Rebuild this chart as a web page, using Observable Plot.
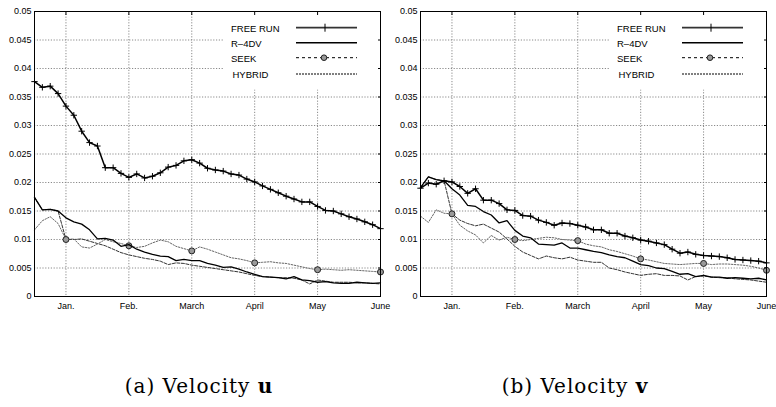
<!DOCTYPE html>
<html><head><meta charset="utf-8">
<script src="https://cdn.jsdelivr.net/npm/d3@7"></script>
<script src="https://cdn.jsdelivr.net/npm/@observablehq/plot@0.6"></script>
<style>
body{margin:0;background:#fff;}
#wrap{position:relative;width:776px;height:407px;overflow:hidden;background:#fff;}
.panel{position:absolute;top:0;}
.cap{position:absolute;font-family:"DejaVu Serif",serif;font-size:20px;line-height:20px;color:#000;white-space:nowrap;transform:translateX(-50%);letter-spacing:1px;}
</style></head><body>
<div id="wrap">
 <div id="pa" class="panel" style="left:0"></div>
 <div id="pb" class="panel" style="left:386px"></div>
 <div class="cap" style="left:199px;top:376px">(a) Velocity <b>u</b></div>
 <div class="cap" style="left:575px;top:376px">(b) Velocity <b>v</b></div>
</div>
<script>
const months = [-0.5,-0.375,-0.25,-0.125,0,0.125,0.25,0.375,0.5,0.625,0.75,0.875,1,1.125,1.25,1.375,1.5,1.625,1.75,1.875,2,2.125,2.25,2.375,2.5,2.625,2.75,2.875,3,3.125,3.25,3.375,3.5,3.625,3.75,3.875,4,4.125,4.25,4.375,4.5,4.625,4.75,4.875,5];
const monthTicks = [0,1,2,3,4,5];
const monthLabels = ["Jan.","Feb.","March","April","May","June"];
const yTicks = [0,0.005,0.01,0.015,0.02,0.025,0.03,0.035,0.04,0.045,0.05];
const yTickLabels = ["0","0.005","0.01","0.015","0.02","0.025","0.03","0.035","0.04","0.045","0.05"];
const seriesNames = ["FREE RUN","R\u20134DV","SEEK","HYBRID"];

const uFreeRun = [0.0377,0.0367,0.0369,0.0356,0.0334,0.0318,0.0290,0.0270,0.0264,0.0226,0.0226,0.0216,0.0209,0.0215,0.0208,0.0211,0.0217,0.0227,0.0230,0.0238,0.0240,0.0234,0.0225,0.0222,0.0220,0.0215,0.0213,0.0206,0.0201,0.0194,0.0188,0.0182,0.0176,0.0171,0.0166,0.0166,0.0158,0.0151,0.0150,0.0145,0.0140,0.0136,0.0131,0.0126,0.0119];
const uR4dv = [0.0174,0.0152,0.0153,0.0150,0.0138,0.0131,0.0127,0.0117,0.0101,0.0102,0.0099,0.0088,0.0091,0.0083,0.0078,0.0074,0.0071,0.0070,0.0063,0.0065,0.0063,0.0063,0.0058,0.0055,0.0051,0.0052,0.0048,0.0043,0.0039,0.0035,0.0034,0.0033,0.0031,0.0035,0.0029,0.0028,0.0025,0.0026,0.0024,0.0023,0.0023,0.0025,0.0024,0.0023,0.0024];
const uSeek = [0.0117,0.0133,0.0140,0.0128,0.0100,0.0101,0.0087,0.0085,0.0092,0.0100,0.0096,0.0093,0.0089,0.0086,0.0088,0.0094,0.0099,0.0096,0.0088,0.0084,0.0080,0.0087,0.0083,0.0078,0.0073,0.0068,0.0066,0.0063,0.0059,0.0060,0.0061,0.0059,0.0058,0.0055,0.0052,0.0049,0.0047,0.0048,0.0047,0.0046,0.0047,0.0046,0.0045,0.0044,0.0043];
const uHybrid = [0.0174,0.0152,0.0153,0.0150,0.0100,0.0100,0.0101,0.0097,0.0093,0.0089,0.0083,0.0077,0.0073,0.0070,0.0067,0.0065,0.0062,0.0056,0.0059,0.0058,0.0055,0.0053,0.0051,0.0049,0.0047,0.0045,0.0043,0.0040,0.0037,0.0035,0.0034,0.0033,0.0033,0.0032,0.0029,0.0022,0.0029,0.0027,0.0025,0.0025,0.0025,0.0024,0.0024,0.0023,0.0022];

const vFreeRun = [0.0190,0.0199,0.0197,0.0203,0.0201,0.0193,0.0181,0.0189,0.0169,0.0169,0.0163,0.0152,0.0151,0.0142,0.0141,0.0134,0.0130,0.0125,0.0129,0.0128,0.0125,0.0122,0.0117,0.0117,0.0111,0.0111,0.0106,0.0103,0.0099,0.0097,0.0094,0.0091,0.0083,0.0076,0.0078,0.0074,0.0072,0.0071,0.0070,0.0068,0.0065,0.0064,0.0063,0.0062,0.0059];
const vR4dv = [0.0191,0.0210,0.0205,0.0203,0.0189,0.0178,0.0160,0.0158,0.0149,0.0143,0.0129,0.0133,0.0116,0.0106,0.0103,0.0092,0.0091,0.0090,0.0094,0.0085,0.0085,0.0082,0.0079,0.0077,0.0073,0.0070,0.0068,0.0062,0.0056,0.0054,0.0050,0.0049,0.0044,0.0039,0.0040,0.0035,0.0037,0.0034,0.0034,0.0032,0.0033,0.0032,0.0031,0.0032,0.0029];
const vSeek = [0.0141,0.0130,0.0152,0.0146,0.0145,0.0125,0.0115,0.0108,0.0094,0.0107,0.0099,0.0104,0.0100,0.0098,0.0100,0.0102,0.0104,0.0103,0.0100,0.0099,0.0098,0.0092,0.0089,0.0087,0.0082,0.0079,0.0075,0.0071,0.0066,0.0064,0.0061,0.0058,0.0057,0.0056,0.0057,0.0058,0.0058,0.0056,0.0057,0.0057,0.0056,0.0055,0.0053,0.0050,0.0046];
const vHybrid = [0.0191,0.0210,0.0205,0.0203,0.0145,0.0134,0.0128,0.0124,0.0127,0.0120,0.0113,0.0101,0.0088,0.0078,0.0072,0.0066,0.0071,0.0068,0.0066,0.0069,0.0064,0.0062,0.0060,0.0060,0.0050,0.0047,0.0043,0.0040,0.0037,0.0039,0.0040,0.0037,0.0037,0.0036,0.0029,0.0035,0.0036,0.0034,0.0033,0.0033,0.0031,0.0030,0.0029,0.0027,0.0025];

const W = 390, H = 315, ML = 34, MR = 10, MT = 11, MB = 19;
const tickFont = "'Liberation Sans', Arial, sans-serif";

function panel(el, freeRun, r4dv, seek, hybrid) {
  const rows = vals => months.map((m, i) => ({m, v: vals[i]}));
  const fr = rows(freeRun), rd = rows(r4dv), sk = rows(seek), hy = rows(hybrid);
  const skMarks = sk.filter(d => monthTicks.includes(d.m));
  const grid = {stroke: "#8a8a8a", strokeDasharray: "1.2,1.6", strokeWidth: 1};
  const plot = Plot.plot({
    width: W, height: H,
    marginLeft: ML, marginRight: MR, marginTop: MT, marginBottom: MB,
    style: {background: "transparent", fontFamily: tickFont, fontSize: "9px", color: "#000", overflow: "visible"},
    x: {domain: [-0.5, 5], label: null},
    y: {domain: [0, 0.05], label: null},
    marks: [
      Plot.ruleY(yTicks, grid),
      Plot.ruleX(monthTicks, grid),
      Plot.line(hy, {x: "m", y: "v", stroke: "#333", strokeWidth: 1, strokeDasharray: "3,1.5"}),
      Plot.line(sk, {x: "m", y: "v", stroke: "#666", strokeWidth: 1, strokeDasharray: "1.5,1.5"}),
      Plot.dot(skMarks, {x: "m", y: "v", r: 3, fill: "#999", stroke: "#222", strokeWidth: 1}),
      Plot.line(rd, {x: "m", y: "v", stroke: "#000", strokeWidth: 1.3}),
      Plot.line(fr, {x: "m", y: "v", stroke: "#000", strokeWidth: 1.5}),
      Plot.dot(fr, {x: "m", y: "v", symbol: "plus", r: 2.2, stroke: "#000", strokeWidth: 1}),
      Plot.frame({stroke: "#000", strokeWidth: 1}),
      Plot.axisY({ticks: yTicks, anchor: "left", tickSize: 0, tickPadding: 3, tickFormat: d => yTickLabels[yTicks.indexOf(d)], label: null}),
      Plot.axisX({ticks: monthTicks, anchor: "bottom", tickSize: 0, tickPadding: 6, tickFormat: i => monthLabels[i], label: null}),
      Plot.axisY({ticks: yTicks, anchor: "right", tickSize: -3, tickFormat: () => "", label: null}),
      Plot.axisX({ticks: monthTicks, anchor: "top", tickSize: -3, tickFormat: () => "", label: null})
    ]
  });

  // legend overlay (pixel layout relative to the plot frame)
  const x0 = ML, y0 = MT, x1 = W - MR;
  const g = d3.create("svg:g").attr("font-family", tickFont).attr("font-size", 9.5).attr("text-anchor", "start");
  g.append("rect").attr("x", x0 + 190).attr("y", y0 + 0.5).attr("width", x1 - x0 - 190).attr("height", 78).attr("fill", "#fff");
  const rowsY = [16.7, 31.7, 46.7, 63];
  const sx1 = x0 + 262, sx2 = x0 + 323, mid = x0 + 291;
  seriesNames.forEach((name, i) => {
    g.append("text").attr("x", x0 + 197 + (i === 3 ? 1.5 : 0)).attr("y", y0 + rowsY[i] + 0.5).attr("dy", "0.35em").attr("fill", "#000").attr("text-anchor", "start").text(name);
  });
  const ln = (i, attrs) => {
    const l = g.append("line").attr("x1", sx1).attr("x2", sx2).attr("y1", y0 + rowsY[i]).attr("y2", y0 + rowsY[i]);
    Object.entries(attrs).forEach(([k, v]) => l.attr(k, v));
  };
  ln(0, {stroke: "#333", "stroke-width": 1.8});
  g.append("line").attr("x1", mid).attr("x2", mid).attr("y1", y0 + rowsY[0] - 4).attr("y2", y0 + rowsY[0] + 4).attr("stroke", "#000").attr("stroke-width", 1);
  ln(1, {stroke: "#000", "stroke-width": 1.5});
  ln(2, {stroke: "#000", "stroke-width": 1, "stroke-dasharray": "3,3"});
  g.append("circle").attr("cx", mid - 1).attr("cy", y0 + rowsY[2]).attr("r", 2.8).attr("fill", "#999").attr("stroke", "#222");
  ln(3, {stroke: "#000", "stroke-width": 1, "stroke-dasharray": "2,1"});
  const frame = plot.querySelector('[aria-label="frame"]');
  if (frame) plot.insertBefore(g.node(), frame); else plot.appendChild(g.node());
  el.appendChild(plot);
}

panel(document.getElementById("pa"), uFreeRun, uR4dv, uSeek, uHybrid);
panel(document.getElementById("pb"), vFreeRun, vR4dv, vSeek, vHybrid);
</script>
</body></html>
